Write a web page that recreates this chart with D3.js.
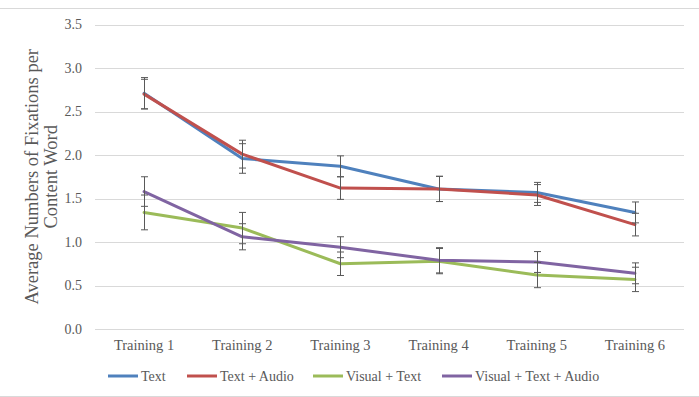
<!DOCTYPE html>
<html>
<head>
<meta charset="utf-8">
<script src="https://cdn.jsdelivr.net/npm/d3@7"></script>
<style>
  body { margin: 0; background: #fff; }
  svg text { font-family: "Liberation Serif", "DejaVu Serif", serif; fill: #595959; }
</style>
</head>
<body>
<div id="chart"></div>
<script>
// Data
const categories = ['Training 1', 'Training 2', 'Training 3', 'Training 4', 'Training 5', 'Training 6'];
const seriesNames = ['Text', 'Text + Audio', 'Visual + Text', 'Visual + Text + Audio'];
const textValues = [2.71, 1.96, 1.87, 1.61, 1.57, 1.34];
const textAudioValues = [2.70, 2.01, 1.62, 1.61, 1.54, 1.20];
const visualTextValues = [1.34, 1.16, 0.75, 0.78, 0.62, 0.57];
const visualTextAudioValues = [1.58, 1.06, 0.94, 0.79, 0.77, 0.64];
// error bar half-widths
const textErr = [0.18, 0.17, 0.12, 0.145, 0.115, 0.12];
const textAudioErr = [0.17, 0.16, 0.13, 0.145, 0.12, 0.13];
const visualTextErr = [0.20, 0.18, 0.135, 0.145, 0.145, 0.14];
const visualTextAudioErr = [0.17, 0.15, 0.12, 0.145, 0.12, 0.12];
const yTicks = [0, 0.5, 1, 1.5, 2, 2.5, 3, 3.5];
const colors = ['#4F81BD', '#C0504D', '#9BBB59', '#8064A2'];

const series = [
  { name: seriesNames[0], values: textValues, err: textErr, color: colors[0] },
  { name: seriesNames[1], values: textAudioValues, err: textAudioErr, color: colors[1] },
  { name: seriesNames[2], values: visualTextValues, err: visualTextErr, color: colors[2] },
  { name: seriesNames[3], values: visualTextAudioValues, err: visualTextAudioErr, color: colors[3] }
];

const width = 699, height = 397;
const margin = { top: 24.5, right: 15, bottom: 68, left: 95 };

const svg = d3.select('#chart').append('svg')
  .attr('width', width)
  .attr('height', height);

// chart border
svg.append('rect')
  .attr('x', -1).attr('y', 8.5)
  .attr('width', width + 2).attr('height', 388)
  .attr('fill', 'none')
  .attr('stroke', '#D9D9D9');

const x = d3.scaleBand()
  .domain(categories)
  .range([margin.left, width - margin.right]);

const y = d3.scaleLinear()
  .domain([0, 3.5])
  .range([height - margin.bottom, margin.top]);

// gridlines
svg.append('g')
  .selectAll('line')
  .data(yTicks)
  .join('line')
  .attr('x1', margin.left)
  .attr('x2', width - margin.right)
  .attr('y1', d => Math.round(y(d)) + 0.5)
  .attr('y2', d => Math.round(y(d)) + 0.5)
  .attr('stroke', '#D9D9D9')
  .attr('stroke-width', 1);

// y axis labels
const yAxis = svg.append('g')
  .attr('transform', `translate(${margin.left - 13},0)`)
  .call(d3.axisLeft(y).tickValues(yTicks).tickFormat(d3.format('.1f')).tickSize(0).tickPadding(0));
yAxis.select('.domain').remove();
yAxis.selectAll('text')
  .style('font-size', '14px')
  .style('font-family', '"Liberation Serif", serif')
  .attr('fill', '#595959');

// x axis labels
const xAxis = svg.append('g')
  .attr('transform', `translate(0,${height - margin.bottom + 11})`)
  .call(d3.axisBottom(x).tickSize(0).tickPadding(0));
xAxis.select('.domain').remove();
xAxis.selectAll('text')
  .style('font-size', '14.5px')
  .style('font-family', '"Liberation Serif", serif')
  .attr('fill', '#595959');

// y axis title
svg.append('text')
  .attr('transform', `translate(38,${(margin.top + height - margin.bottom) / 2}) rotate(-90)`)
  .attr('text-anchor', 'middle')
  .style('font-size', '18.5px')
  .selectAll('tspan')
  .data(['Average Numbers of Fixations per', 'Content Word'])
  .join('tspan')
  .attr('x', 0)
  .attr('dy', (d, i) => i === 0 ? 0 : 19)
  .text(d => d);

const cx = d => x(d) + x.bandwidth() / 2;

const line = d3.line()
  .x((d, i) => cx(categories[i]))
  .y(d => y(d));

// lines
svg.append('g')
  .selectAll('path')
  .data(series)
  .join('path')
  .attr('d', d => line(d.values))
  .attr('fill', 'none')
  .attr('stroke', d => d.color)
  .attr('stroke-width', 3)
  .attr('stroke-linejoin', 'round')
  .attr('stroke-linecap', 'round');

// error bars
const errData = series.flatMap(s => s.values.map((v, i) => ({ c: categories[i], v, e: s.err[i] })));
const eg = svg.append('g')
  .attr('stroke', '#595959')
  .attr('stroke-width', 1);
errData.forEach(d => {
  const px = Math.round(cx(d.c)) + 0.5;
  eg.append('line').attr('x1', px).attr('x2', px).attr('y1', y(d.v + d.e)).attr('y2', y(d.v - d.e));
  [d.v + d.e, d.v - d.e].forEach(t => {
    eg.append('line').attr('x1', px - 3.5).attr('x2', px + 3.5).attr('y1', y(t)).attr('y2', y(t));
  });
});

// legend
const legendX = [108, 187, 313, 442];
const legend = svg.append('g')
  .selectAll('g')
  .data(series)
  .join('g')
  .attr('transform', (d, i) => `translate(${legendX[i]},376)`);
legend.append('line')
  .attr('x1', 0).attr('x2', 30)
  .attr('stroke', d => d.color)
  .attr('stroke-width', 3);
legend.append('text')
  .attr('x', 33)
  .attr('dy', '0.35em')
  .style('font-size', '14px')
  .text(d => d.name);
</script>
</body>
</html>
